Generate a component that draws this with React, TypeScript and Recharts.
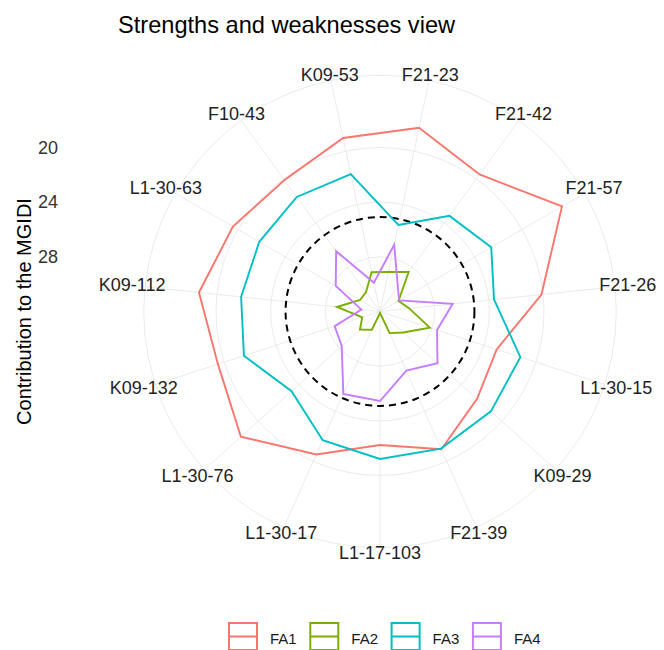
import {
  PolarAngleAxis,
  PolarGrid,
  PolarRadiusAxis,
  Radar,
  RadarChart,
} from 'recharts';

const FONT = '"Liberation Sans", Arial, sans-serif';

// genotypes, clockwise from the top
const genotypes = [
  'F21-23',
  'F21-42',
  'F21-57',
  'F21-26',
  'L1-30-15',
  'K09-29',
  'F21-39',
  'L1-17-103',
  'L1-30-17',
  'L1-30-76',
  'K09-132',
  'K09-112',
  'L1-30-63',
  'F10-43',
  'K09-53',
];

// contribution of each factor to the MGIDI, per genotype
const fa1 = [18.26, 19.6, 16.62, 20.12, 23.02, 22.44, 20.96, 22.23, 20.55, 18.3, 19.53, 18.68, 19.57, 20.11, 19.02];
const fa2 = [29.05, 28.43, 30.44, 29.85, 28.17, 29.71, 30.27, 31.89, 30.54, 30.03, 30.63, 28.84, 30.32, 30.25, 29.06];
const fa3 = [25.53, 23.35, 22.6, 23.61, 21.2, 21.08, 21.02, 21.21, 21.69, 23.29, 21.53, 21.78, 21.8, 21.64, 21.72];
const fa4 = [27.0, 29.78, 30.38, 26.65, 27.61, 26.34, 27.26, 25.45, 25.4, 28.23, 28.51, 30.63, 28.26, 26.54, 29.85];

const factors = ['FA1', 'FA2', 'FA3', 'FA4'];
const colors = ['#F8766D', '#7CAE00', '#00BFC4', '#C77CFF'];

// dashed reference level
const cutoff = 25.09;
const radiusBreaks = [20, 24, 28];

const data = genotypes.map((g, i) => ({
  genotype: g,
  FA1: fa1[i],
  FA2: fa2[i],
  FA3: fa3[i],
  FA4: fa4[i],
}));

const all = [...fa1, ...fa2, ...fa3, ...fa4];
const hi = Math.max(...all);
const lo = Math.min(...all);
// data fills 0.4 of the panel, the outer ring sits at 0.45
const outerLo = hi - (hi - lo) * 1.125;

const CX = 380;
const CY = 311.5;

const AngleTick = (props: any) => {
  const { x, y, payload } = props;
  const dx = x - CX;
  const dy = y - CY;
  const d = Math.hypot(dx, dy) || 1;
  const ux = dx / d;
  const uy = dy / d;
  const extra = 8 * ux * ux;
  return (
    <text
      x={x + ux * extra}
      y={y + uy * extra}
      textAnchor="middle"
      dominantBaseline="central"
      fontFamily={FONT}
      fontSize={18}
      fill="#222"
    >
      {payload.value}
    </text>
  );
};

const RadiusTick = (props: any) => {
  const { y, payload } = props;
  return (
    <text
      x={58}
      y={y}
      textAnchor="end"
      dominantBaseline="central"
      fontFamily={FONT}
      fontSize={18}
      fill="#333"
    >
      {payload.value}
    </text>
  );
};

// title, y title and the legend keys drawn over the chart
const Overlay = () => (
  <svg
    width={664}
    height={650}
    style={{ position: 'absolute', left: 0, top: 0, pointerEvents: 'none' }}
    fontFamily={FONT}
  >
    <text x={118} y={33} fontSize={23.6} fill="#000">
      Strengths and weaknesses view
    </text>
    <text
      x={0}
      y={0}
      transform={`translate(31, ${CY}) rotate(-90)`}
      textAnchor="middle"
      fontSize={20}
      fill="#000"
    >
      Contribution to the MGIDI
    </text>
    {factors.map((f, i) => {
      const x0 = 229 + i * 81.3;
      return (
        <g key={f}>
          <rect
            x={x0}
            y={623}
            width={28}
            height={27}
            fill="none"
            stroke={colors[i]}
            strokeWidth={2}
          />
          <line
            x1={x0}
            x2={x0 + 28}
            y1={636.5}
            y2={636.5}
            stroke={colors[i]}
            strokeWidth={2}
          />
          <text
            x={x0 + 41}
            y={638}
            dominantBaseline="central"
            fontSize={15}
            fill="#1a1a1a"
          >
            {f}
          </text>
        </g>
      );
    })}
  </svg>
);

export default function App() {
  return (
    <div
      style={{
        position: 'relative',
        width: 664,
        height: 658,
        margin: -8,
        background: '#fff',
        overflow: 'hidden',
      }}
    >
      <RadarChart
        width={664}
        height={650}
        data={data}
        cx={CX}
        cy={CY}
        outerRadius={236.25}
        startAngle={78}
        endAngle={-282}
        margin={{ top: 0, right: 0, bottom: 0, left: 0 }}
        style={{ position: 'absolute', left: 0, top: 0 }}
      >
        <PolarGrid gridType="circle" stroke="#ebebeb" strokeWidth={1} />
        <PolarGrid
          radiusAxisId="cut"
          gridType="circle"
          radialLines={false}
          stroke="#000"
          strokeWidth={2}
          strokeDasharray="7 5"
        />
        <PolarAngleAxis
          dataKey="genotype"
          axisLineType="circle"
          axisLine={{ stroke: '#ebebeb' }}
          tickLine={false}
          tickSize={5}
          tick={AngleTick}
        />
        <PolarRadiusAxis
          angle={90}
          type="number"
          domain={[outerLo, hi]}
          allowDataOverflow
          reversed
          ticks={radiusBreaks}
          axisLine={false}
          tick={RadiusTick}
        />
        <PolarRadiusAxis
          radiusAxisId="cut"
          angle={90}
          type="number"
          domain={[outerLo, hi]}
          allowDataOverflow
          reversed
          ticks={[cutoff]}
          axisLine={false}
          tick={false}
        />
        {factors.map((f, i) => (
          <Radar
            key={f}
            name={f}
            dataKey={f}
            stroke={colors[i]}
            strokeWidth={1.9}
            fill="none"
            fillOpacity={0}
            dot={false}
            isAnimationActive={false}
          />
        ))}
      </RadarChart>
      <Overlay />
    </div>
  );
}
